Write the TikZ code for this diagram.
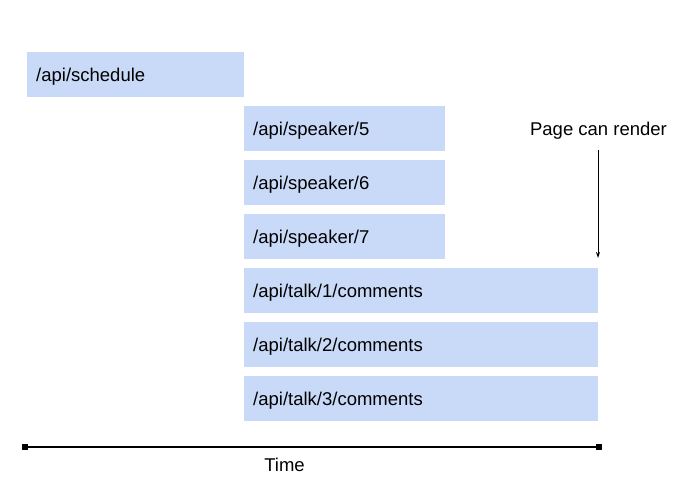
\documentclass[tikz,border=0pt]{standalone}
\usepackage{fontspec}
\setmainfont{Liberation Sans}
\usetikzlibrary{arrows.meta}
\definecolor{reqblue}{HTML}{C9DAF8}
\begin{document}
\begin{tikzpicture}[x=1pt,y=-1pt,
  req/.style={fill=reqblue,draw=none,anchor=north west,minimum height=45pt,inner xsep=9pt,inner ysep=0pt,text height=16pt,text depth=2pt,align=left,font=\fontsize{18.5pt}{22pt}\selectfont},
  lbl/.style={font=\fontsize{18.5pt}{22pt}\selectfont,inner sep=0pt}]
\useasboundingbox (0,0) rectangle (687,497);
\node[req,minimum width=217pt,text width=199pt] (sched) at (27,52) {/api/schedule};
\node[req,minimum width=201pt,text width=183pt] (s5) at (244,106) {/api/speaker/5};
\node[req,minimum width=201pt,text width=183pt] (s6) at (244,160) {/api/speaker/6};
\node[req,minimum width=201pt,text width=183pt] (s7) at (244,214) {/api/speaker/7};
\node[req,minimum width=354pt,text width=336pt] (t1) at (244,268) {/api/talk/1/comments};
\node[req,minimum width=354pt,text width=336pt] (t2) at (244,322) {/api/talk/2/comments};
\node[req,minimum width=354pt,text width=336pt] (t3) at (244,376) {/api/talk/3/comments};
\node[lbl] (page) at (598.5,131) {Page can render};
\coordinate (arrtop) at (598,150);
\coordinate (arrbot) at (598,258);
\draw[-{Stealth[length=6pt,width=4pt]},line width=1pt] (arrtop) -- (arrbot);
\coordinate (tstart) at (25,447);
\coordinate (tend) at (599,447);
\draw[line width=1.5pt] (tstart) -- (tend);
\fill (tstart) ++(-3,-3) rectangle ++(6,6);
\fill (tend) ++(-3,-3) rectangle ++(6,6);
\node[lbl] (time) at (284.5,465) {Time};
\end{tikzpicture}
\end{document}
